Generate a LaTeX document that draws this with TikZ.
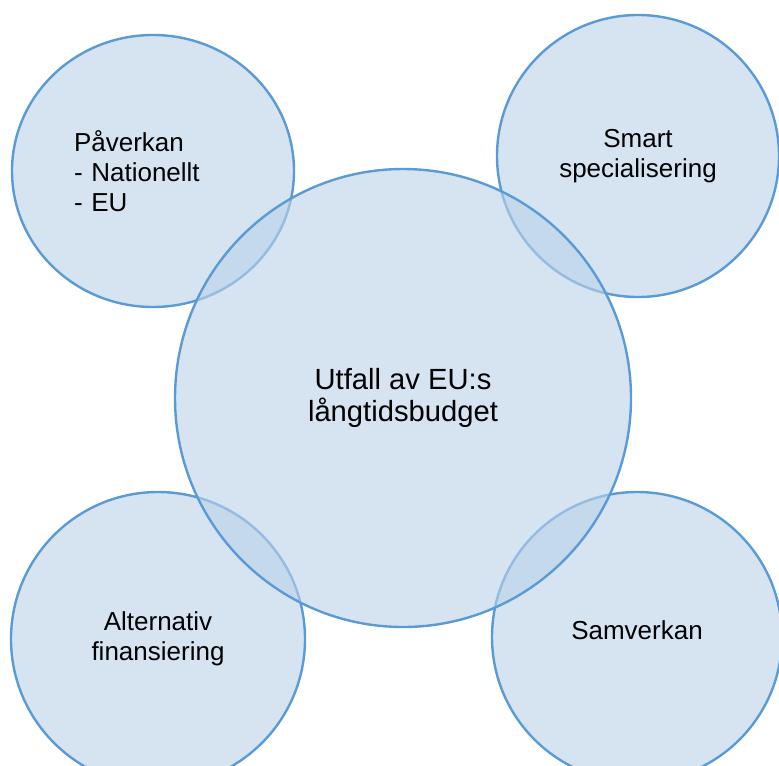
\documentclass[tikz,border=0pt]{standalone}
\usepackage{fontspec}
\setmainfont{Liberation Sans}
\usetikzlibrary{shapes.geometric}
\definecolor{rim}{RGB}{91,155,213}
\definecolor{pale}{RGB}{214,228,242}
\definecolor{veil}{RGB}{187,210,233}
\begin{document}
\begin{tikzpicture}[x=0.5pt, y=-0.5pt, line width=1.2pt,
    font=\fontsize{13}{15}\selectfont,
    bubble/.style={ellipse, draw=rim, fill=pale, align=center, inner sep=0pt},
    core/.style={ellipse, draw=rim, fill=veil, fill opacity=0.6, text opacity=1,
      align=center, inner sep=0pt, minimum width=228pt, minimum height=229pt,
      font=\fontsize{14.6}{15.6}\selectfont}]

      \useasboundingbox (0,0) rectangle (779,765);
      \coordinate (mid) at (403,398);

      % Define outer circles
      \node[bubble, minimum width=141pt, minimum height=136pt, text width=79pt, align=left]
        (pav) at ([shift={(-250,-227)}]mid) {Påverkan\\- Nationellt\\- EU};
      \node[bubble, minimum width=141pt, minimum height=141pt]
        (smart) at ([shift={(235,-242)}]mid) {Smart\\specialisering};
      \node[bubble, minimum width=147pt, minimum height=147pt]
        (alt) at ([shift={(-245,241)}]mid) {Alternativ\\finansiering};
      \node[bubble, minimum width=145pt, minimum height=145pt, text depth=7pt]
        (sam) at ([shift={(234,239)}]mid) {Samverkan};

      % Define centre circle
      \node[core] (main) at (mid) {Utfall av EU:s\\långtidsbudget};

    \end{tikzpicture}
\end{document}
